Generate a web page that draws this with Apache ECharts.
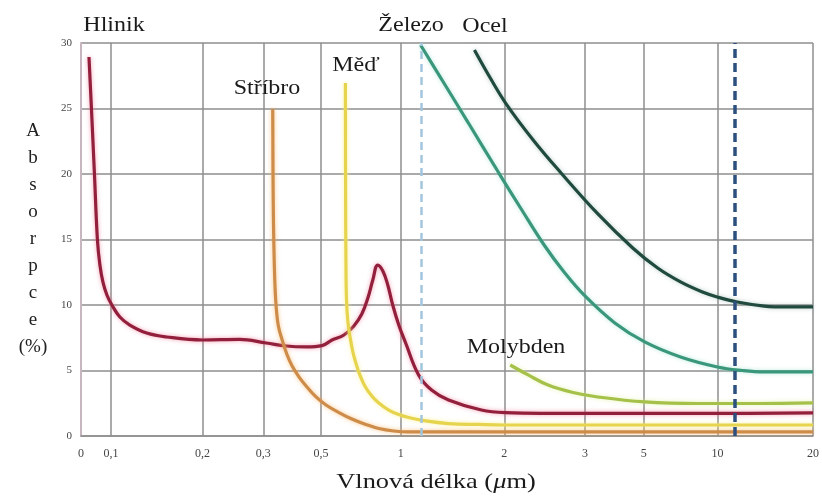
<!DOCTYPE html>
<html>
<head>
<meta charset="utf-8">
<script src="https://cdn.jsdelivr.net/npm/echarts@6/dist/echarts.min.js"></script>
<style>html,body{margin:0;padding:0;background:#fff}#chart{width:822px;height:498px}</style>
</head>
<body>
<div id="chart"></div>
<script>
// ---------------- data (wavelength in µm, absorption in %) ----------------
const xTickValues = [0, 0.1, 0.2, 0.3, 0.5, 1, 2, 3, 5, 10, 20];
const xTickLabels = ['0', '0,1', '0,2', '0,3', '0,5', '1', '2', '3', '5', '10', '20'];
const yTickValues = [0, 5, 10, 15, 20, 25, 30];

const seriesNames = ['Hlinik', 'Stříbro', 'Měď', 'Železo', 'Ocel', 'Molybden'];

const hlinikData = [
  [0.0267, 28.93], [0.035, 24.96], [0.045, 20.0], [0.055, 14.96], [0.0633, 13.05], [0.0733, 11.76],
  [0.0867, 10.76], [0.1011, 10.0], [0.1098, 9.08], [0.1207, 8.47], [0.1391, 7.86], [0.1609, 7.56],
  [0.2, 7.33], [0.2607, 7.37], [0.3103, 7.1], [0.3793, 6.87], [0.45, 6.8], [0.506, 6.9], [0.569, 7.33],
  [0.644, 7.71], [0.706, 8.4], [0.756, 9.31], [0.794, 10.53], [0.825, 11.91], [0.856, 13.05],
  [0.888, 12.6], [0.919, 11.53], [0.95, 10.0], [0.988, 8.47], [1.048, 7.1], [1.173, 4.66],
  [1.298, 3.51], [1.462, 2.75], [1.779, 1.98], [2.012, 1.79], [3, 1.72], [10, 1.72], [20, 1.76]
];
const stribroData = [
  [0.3328, 24.96], [0.3345, 18.02], [0.3379, 13.44], [0.3431, 10.38], [0.3517, 8.47], [0.3655, 7.33],
  [0.3828, 6.18], [0.4, 5.34], [0.4241, 4.5], [0.4483, 3.82], [0.4828, 2.98], [0.5313, 2.37],
  [0.6125, 1.79], [0.6938, 1.3], [0.7813, 0.88], [0.8625, 0.57], [0.9563, 0.38], [1.077, 0.31],
  [2, 0.31], [20, 0.31]
];
const medData = [
  [0.6531, 26.95], [0.6544, 18.02], [0.6563, 13.44], [0.66, 10.38], [0.6688, 8.7], [0.6813, 7.63],
  [0.7, 6.41], [0.7188, 5.57], [0.7438, 4.66], [0.775, 3.82], [0.8188, 3.05], [0.8625, 2.52],
  [0.925, 1.98], [0.9875, 1.64], [1.0769, 1.41], [1.2404, 1.15], [1.4615, 0.95], [1.75, 0.88],
  [2, 0.84], [20, 0.84]
];
const zelezoData = [
  [1.192, 29.85], [1.423, 26.87], [1.654, 23.89], [1.942, 20.15], [2.21, 17.33], [2.494, 14.58],
  [2.741, 12.52], [3.0, 10.69], [4.017, 8.63], [5.068, 7.18], [7.5, 6.03], [10, 5.27],
  [12.6, 5.0], [14.9, 4.89], [20, 4.89]
];
const ocelData = [
  [1.712, 29.47], [1.865, 27.33], [2.025, 25.34], [2.358, 22.6], [2.704, 20.08], [3.441, 16.95],
  [4.627, 14.35], [5.946, 12.82], [7.5, 11.76], [8.986, 10.99], [10, 10.61], [12.08, 10.23],
  [14.9, 9.92], [17.29, 9.85], [20, 9.85]
];
const molybdenData = [
  [2.074, 5.42], [2.296, 4.66], [2.543, 3.89], [2.852, 3.32], [3.441, 2.98], [5.068, 2.6],
  [8.65, 2.48], [14.17, 2.48], [20, 2.53]
];
const laserLines = [1.2, 11.8];

// ---------------- drawn (non-uniform) x scale of the original axis ----------------
const xAxisStops = [0, 30, 122, 183, 241, 321, 425, 506, 565, 639, 735];
function toAxis(wl) {
  for (let i = 1; i < xTickValues.length; i++) {
    if (wl <= xTickValues[i]) {
      const a = xTickValues[i - 1], b = xTickValues[i];
      return xAxisStops[i - 1] + (wl - a) / (b - a) * (xAxisStops[i] - xAxisStops[i - 1]);
    }
  }
  return xAxisStops[xAxisStops.length - 1];
}

// ---------------- styles ----------------
const FONT = 'Liberation Serif';
const GRID = '#8e8e8e';
const styles = [
  { color: '#921f3b', glow: 'rgba(240,120,150,0.7)' },
  { color: '#cd8c4a', glow: 'rgba(250,175,90,0.7)' },
  { color: '#e6d44e', glow: 'rgba(255,240,140,0.8)' },
  { color: '#3b977b', glow: 'rgba(140,220,200,0.6)' },
  { color: '#1f4a3d', glow: 'rgba(120,160,150,0.5)' },
  { color: '#a6c14a', glow: 'rgba(220,240,150,0.7)' }
];
const allData = [hlinikData, stribroData, medData, zelezoData, ocelData, molybdenData];

const series = allData.map((d, i) => ({
  type: 'line',
  name: seriesNames[i],
  data: d.map(p => [toAxis(p[0]), p[1]]),
  smooth: 0.4,
  symbol: 'none',
  z: 3,
  lineStyle: { color: styles[i].color, width: 3.2, shadowColor: styles[i].glow, shadowBlur: 4 }
}));
series.push({
  type: 'line',
  name: 'laser',
  data: [],
  z: 5,
  markLine: {
    silent: true,
    symbol: 'none',
    label: { show: false },
    data: [
      { xAxis: toAxis(laserLines[0]), lineStyle: { color: '#a3c6df', width: 2.5, type: [8, 5] } },
      { xAxis: toAxis(laserLines[1]), lineStyle: { color: '#2d4f7e', width: 3.5, type: [9, 5] } }
    ]
  }
});

function annot(text, x, y) {
  return {
    type: 'text', x: x, y: y, scaleX: 1.2, scaleY: 1, z: 10,
    style: { text: text, font: '20px "' + FONT + '"', fill: '#1a1a1a', textAlign: 'center', textVerticalAlign: 'middle' }
  };
}

const chart = echarts.init(document.getElementById('chart'), null, { renderer: 'canvas' });
chart.setOption({
  animation: false,
  backgroundColor: '#ffffff',
  grid: { left: 81, right: 6, top: 43, bottom: 62 },
  xAxis: {
    type: 'value', min: 0, max: xAxisStops[xAxisStops.length - 1],
    axisLine: { show: true, lineStyle: { color: GRID, width: 1.5 } },
    axisTick: { show: false, customValues: xAxisStops },
    axisLabel: {
      customValues: xAxisStops, showMinLabel: true, showMaxLabel: true,
      formatter: v => { const k = xAxisStops.indexOf(v); return k >= 0 ? xTickLabels[k] : ''; },
      margin: 12, fontFamily: FONT, fontSize: 12, color: '#444'
    },
    splitLine: { show: true, lineStyle: { color: GRID, width: 1.5 } }
  },
  yAxis: {
    type: 'value', min: yTickValues[0], max: yTickValues[yTickValues.length - 1], interval: 5,
    axisLine: { show: true, lineStyle: { color: '#c7b5bf', width: 2 } },
    axisTick: { show: false },
    axisLabel: { margin: 9, fontFamily: FONT, fontSize: 11, color: '#444' },
    splitLine: { show: true, lineStyle: { color: GRID, width: 1.5 } },
    name: 'A\nb\ns\no\nr\np\nc\ne\n(%)',
    nameLocation: 'middle', nameRotate: 0, nameGap: 48,
    nameTextStyle: { fontFamily: FONT, fontSize: 19, lineHeight: 27, align: 'center', verticalAlign: 'middle', color: '#222' }
  },
  series: series,
  graphic: [
    annot(seriesNames[0], 114, 26),
    annot(seriesNames[3], 411, 26),
    annot(seriesNames[4], 485, 27),
    annot(seriesNames[1], 267, 89),
    annot(seriesNames[2], 356, 66),
    annot(seriesNames[5], 516, 348),
    {
      type: 'text', x: 436, y: 482, scaleX: 1.2, z: 10,
      style: {
        text: '{a|Vlnová délka (}{i|μ}{a|m)}',
        textAlign: 'center', textVerticalAlign: 'middle',
        rich: {
          a: { fontFamily: FONT, fontSize: 22, fill: '#1a1a1a' },
          i: { fontFamily: FONT, fontSize: 22, fontStyle: 'italic', fill: '#1a1a1a' }
        }
      }
    }
  ]
});
</script>
</body>
</html>
